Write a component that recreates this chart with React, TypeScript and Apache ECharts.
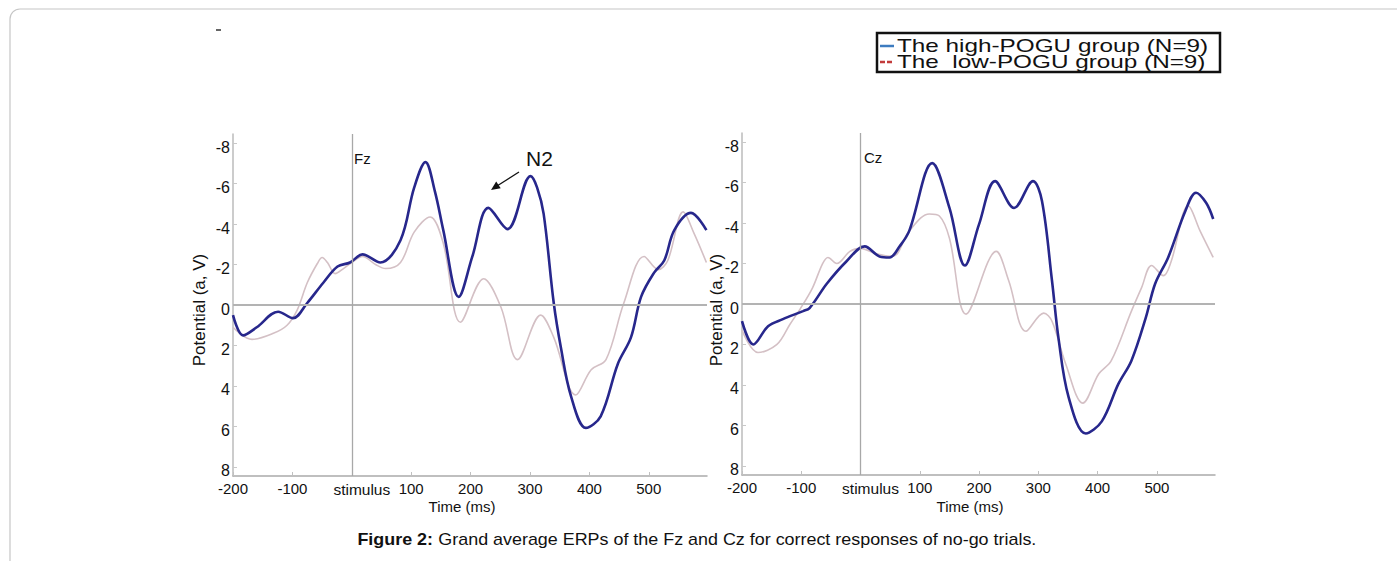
import React, { useEffect, useRef } from 'react';
import * as echarts from 'echarts';

const FONT = '"Liberation Sans", Arial, sans-serif';

const xTicks = [-200, -100, 0, 100, 200, 300, 400, 500];
const yTicks = [-8, -6, -4, -2, 0, 2, 4, 6, 8];

// Fz, high-POGU group
const fzHighT = [-200, -183, -160, -124, -99, -75, -48, -24, -3, 18, 48, 82, 105, 124, 140, 154, 180, 203, 230, 262, 301, 312, 323, 340, 352, 369, 394, 419, 448, 470, 487, 509, 526, 543, 571, 597];
const fzHighV = [0.5, 1.5, 1.1, 0.33, 0.65, -0.1, -1.1, -1.9, -2.1, -2.5, -2.1, -3.2, -5.8, -7.06, -5.6, -3.7, -0.4, -2.4, -4.8, -3.75, -6.37, -5.8, -4.5, -0.1, 2.1, 4.5, 6.07, 5.5, 2.9, 1.6, -0.4, -1.6, -2.2, -3.7, -4.55, -3.7];
// Fz, low-POGU group
const fzLowT = [-200, -168, -132, -109, -92, -75, -58, -50, -41, -28, -14, 0, 18, 40, 57, 82, 105, 132, 154, 183, 222, 251, 279, 318, 340, 377, 403, 428, 458, 492, 516, 532, 558, 576, 597];
const fzLowV = [1.1, 1.7, 1.4, 1.0, 0.25, -1.1, -2.05, -2.35, -2.1, -1.55, -1.8, -2.1, -2.4, -2.0, -1.8, -2.1, -3.6, -4.35, -3.05, 0.85, -1.3, 0.1, 2.7, 0.5, 1.6, 4.45, 3.2, 2.7, -0.1, -2.4, -1.75, -2.2, -4.6, -3.55, -2.1];
// Cz, high-POGU group
const czHighT = [-200, -181, -156, -131, -97, -86, -57, -24, 7, 32, 49, 66, 82, 121, 150, 176, 200, 227, 259, 291, 306, 323, 334, 351, 380, 407, 435, 457, 481, 497, 519, 548, 566, 583, 595];
const czHighV = [0.85, 2.0, 1.1, 0.75, 0.35, 0.2, -1.0, -2.1, -2.85, -2.35, -2.3, -2.85, -3.6, -6.96, -4.75, -1.9, -3.95, -6.07, -4.75, -6.07, -5.1, -1.15, 1.7, 4.6, 6.4, 5.8, 3.95, 2.8, 0.7, -1.0, -2.3, -4.6, -5.5, -5.0, -4.2];
// Cz, low-POGU group
const czLowT = [-200, -173, -141, -119, -102, -81, -64, -55, -40, -18, 0, 25, 54, 82, 116, 133, 150, 178, 229, 250, 279, 309, 323, 346, 375, 402, 423, 457, 474, 491, 511, 524, 553, 573, 595];
const czLowV = [1.3, 2.4, 2.0, 1.0, 0.25, -0.8, -2.0, -2.3, -2.0, -2.6, -2.75, -2.5, -2.35, -3.6, -4.45, -4.35, -3.25, 0.5, -2.6, -1.15, 1.35, 0.45, 0.85, 2.95, 4.9, 3.45, 2.8, 0.35, -0.8, -1.9, -1.4, -2.1, -4.85, -3.6, -2.3];

const legendNames = ['The high-POGU group (N=9)', 'The  low-POGU group (N=9)'];
const panelNames = ['Fz', 'Cz'];

const zip = (t: number[], v: number[]) => t.map((x, i) => [x, v[i]]);

export default function App() {
  const ref = useRef<HTMLDivElement>(null);
  useEffect(() => {
    if (!ref.current) return;
    const chart = echarts.init(ref.current, undefined, { renderer: 'svg' });

    const xAxisCfg = (i: number) => ({
      type: 'value',
      gridIndex: i,
      min: -200,
      max: 598,
      interval: 100,
      axisLine: { show: true, onZero: false, lineStyle: { color: '#aaaaaa', width: 1.5 } },
      axisTick: { show: true, inside: true, length: 4, customValues: xTicks, lineStyle: { color: '#c0c0c0' } },
      axisLabel: {
        customValues: xTicks,
        formatter: (v: number) => (v === 0 ? '{s|stimulus}' : String(v)),
        fontSize: 15, color: '#111', margin: 5, fontFamily: FONT,
        rich: { s: { fontSize: 15.5, fontFamily: FONT, color: '#111', padding: [0, 0, 0, 20] } },
      },
      splitLine: { show: false },
    });
    const yAxisCfg = (i: number) => ({
      type: 'value',
      gridIndex: i,
      inverse: true,
      min: -8.45,
      max: 8.45,
      axisLine: { show: true, onZero: false, lineStyle: { color: '#bbbbbb', width: 1.5 } },
      axisTick: { show: true, inside: true, length: 4, customValues: yTicks, lineStyle: { color: '#c8c8c8' } },
      axisLabel: {
        customValues: yTicks,
        fontSize: 16, color: '#111', margin: 3, fontFamily: FONT,
        verticalAlign: 'top', lineHeight: 8,
      },
      splitLine: { show: false },
    });

    const refLines = {
      silent: true,
      symbol: ['none', 'none'],
      label: { show: false },
      data: [
        { yAxis: 0, lineStyle: { color: '#b3b3b3', width: 2, type: 'solid' } },
        { xAxis: 0, lineStyle: { color: '#a8a8a8', width: 1.3, type: 'solid' } },
      ],
    };

    const lineSeries = (i: number, data: number[][], color: string, width: number, z: number, withRef: boolean) => ({
      type: 'line',
      xAxisIndex: i,
      yAxisIndex: i,
      data,
      smooth: 0.35,
      symbol: 'none',
      z,
      lineStyle: { color, width },
      ...(withRef ? { markLine: refLines } : {}),
    });

    const text = (x: number, y: number, t: string, size: number, extra: any = {}, el: any = {}) => ({
      type: 'text', x, y, ...el,
      style: { text: t, font: `${size}px ${FONT}`, fill: '#111', ...extra },
    });

    const option: any = {
      animation: false,
      backgroundColor: '#ffffff',
      grid: [
        { left: 233, top: 134, width: 474, height: 342 },
        { left: 742, top: 133, width: 473, height: 342 },
      ],
      xAxis: [xAxisCfg(0), xAxisCfg(1)],
      yAxis: [yAxisCfg(0), yAxisCfg(1)],
      series: [
        lineSeries(0, zip(fzLowT, fzLowV), '#d4c0c5', 1.6, 2, true),
        lineSeries(0, zip(fzHighT, fzHighV), '#27278c', 2.6, 3, false),
        lineSeries(1, zip(czLowT, czLowV), '#d4c0c5', 1.6, 2, true),
        lineSeries(1, zip(czHighT, czHighV), '#27278c', 2.6, 3, false),
      ],
      graphic: [
        { type: 'rect', shape: { x: 10, y: 9, width: 1430, height: 620, r: 10 }, style: { fill: 'none', stroke: '#c6c6c6', lineWidth: 1.2 } },
        { type: 'line', shape: { x1: 216, y1: 30, x2: 221, y2: 30 }, style: { stroke: '#333', lineWidth: 1.5 } },
        // legend
        { type: 'rect', shape: { x: 877, y: 33, width: 343, height: 39 }, style: { fill: '#fff', stroke: '#111', lineWidth: 2.5 } },
        { type: 'line', shape: { x1: 880, y1: 46, x2: 894, y2: 46 }, style: { stroke: '#3d7cc0', lineWidth: 2.5 } },
        { type: 'line', shape: { x1: 880, y1: 62, x2: 894, y2: 62 }, style: { stroke: '#c23b3b', lineWidth: 2.5, lineDash: [5, 2] } },
        text(897, 46, legendNames[0], 18, { verticalAlign: 'middle' }, { scaleX: 1.35 }),
        text(897, 62, legendNames[1], 18, { verticalAlign: 'middle' }, { scaleX: 1.35 }),
        // axis names
        text(462, 506, 'Time (ms)', 15, { align: 'center', verticalAlign: 'middle' }),
        text(970, 506, 'Time (ms)', 15, { align: 'center', verticalAlign: 'middle' }),
        { type: 'text', x: 199, y: 310, rotation: Math.PI / 2, style: { text: 'Potential (a, V)', font: `17px ${FONT}`, fill: '#111', align: 'center', verticalAlign: 'middle' } },
        { type: 'text', x: 716, y: 310, rotation: Math.PI / 2, style: { text: 'Potential (a, V)', font: `17px ${FONT}`, fill: '#111', align: 'center', verticalAlign: 'middle' } },
        // panel labels
        text(354, 158, panelNames[0], 15, { verticalAlign: 'middle' }),
        text(864, 157, panelNames[1], 15, { verticalAlign: 'middle' }),
        text(526, 158, 'N2', 21, { verticalAlign: 'middle' }),
        { type: 'line', shape: { x1: 519, y1: 172, x2: 497, y2: 186 }, style: { stroke: '#111', lineWidth: 1.3 } },
        { type: 'polygon', shape: { points: [[491, 190], [500.7, 188.2], [496.2, 181.6]] }, style: { fill: '#111' } },
        // caption
        {
          type: 'text', x: 697, y: 540, scaleX: 1.12,
          style: {
            text: '{b|Figure 2:} Grand average ERPs of the Fz and Cz for correct responses of no-go trials.',
            font: `16px ${FONT}`, fill: '#111', align: 'center', verticalAlign: 'middle',
            rich: { b: { fontWeight: 'bold', fontSize: 16, fontFamily: FONT, fill: '#111' } },
          },
        },
      ],
    };
    chart.setOption(option);
    return () => chart.dispose();
  }, []);
  return <div ref={ref} style={{ position: 'absolute', left: 0, top: 0, width: 1397, height: 561 }} />;
}
